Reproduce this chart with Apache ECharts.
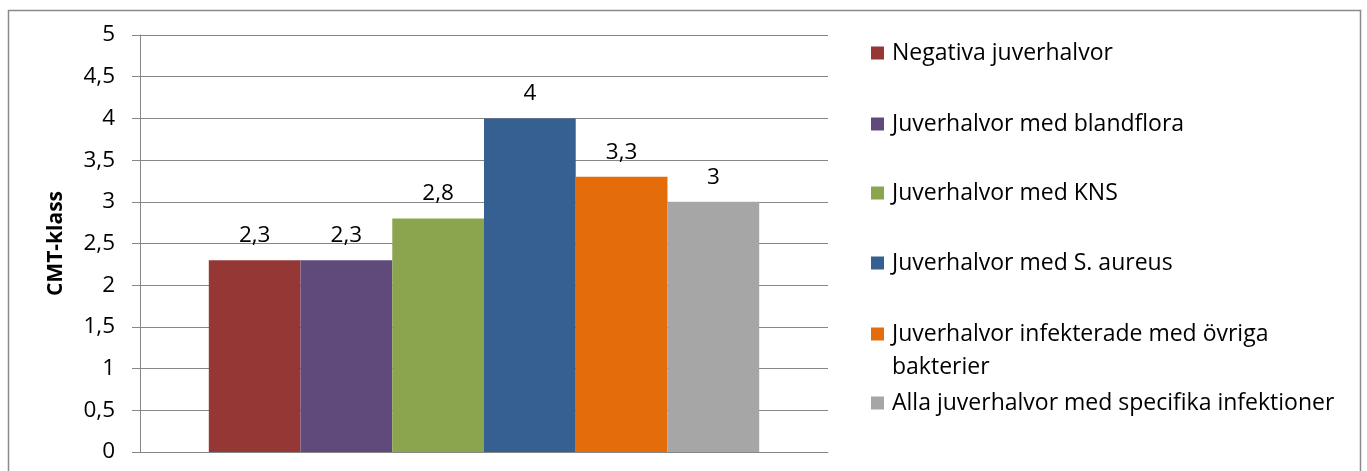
<!DOCTYPE html>
<html>
<head>
<meta charset="utf-8">
<script src="https://cdn.jsdelivr.net/npm/echarts@6/dist/echarts.min.js"></script>
<style>
html,body{margin:0;padding:0;background:#fff;}
#chart{width:1367px;height:471px;}
</style>
</head>
<body>
<div id="chart"></div>
<script>
// ---- data ----
var categories = [''];
var seriesNames = [
  'Negativa juverhalvor',
  'Juverhalvor med blandflora',
  'Juverhalvor med KNS',
  'Juverhalvor med S. aureus',
  'Juverhalvor infekterade med övriga\nbakterier',
  'Alla juverhalvor med specifika infektioner'
];
var values = [2.3, 2.3, 2.8, 4, 3.3, 3];
var yTicks = [0, 0.5, 1, 1.5, 2, 2.5, 3, 3.5, 4, 4.5, 5];
var yAxisTitle = 'CMT-klass';

// ---- styles ----
var colors = ['#953735', '#604A7B', '#8BA54F', '#376092', '#E46C0A', '#A6A6A6'];
var FONT = '"Open Sans", "Noto Sans", sans-serif';
var legendCenters = [53, 124, 193, 263, 334, 403];
var LH = 33;

function fmt(v) { return String(v).replace('.', ','); }

var series = seriesNames.map(function (name, i) {
  return {
    name: name,
    type: 'bar',
    data: [values[i]],
    barGap: '0%',
    barCategoryGap: '20%',
    itemStyle: { color: colors[i] },
    label: {
      show: true,
      position: 'top',
      distance: 13,
      color: '#000',
      fontFamily: FONT,
      fontSize: 22.5,
      formatter: function (p) { return fmt(p.value); }
    }
  };
});

var legends = seriesNames.map(function (name, i) {
  var multi = name.indexOf('\n') >= 0;
  return {
    orient: 'vertical',
    left: 871,
    top: multi ? legendCenters[i] - (LH * 3) / 2 : legendCenters[i] - LH / 2,
    padding: 0,
    itemWidth: 13,
    itemHeight: 13,
    icon: 'rect',
    selectedMode: false,
    data: [name],
    // keep the first text line level with the colour key (as in the original)
    formatter: multi ? function (n) { return '\n' + n; } : null,
    textStyle: {
      fontFamily: FONT,
      fontSize: 23,
      color: '#000',
      lineHeight: LH,
      padding: [0, 0, 0, 3]
    }
  };
});

var chart = echarts.init(document.getElementById('chart'), null, { renderer: 'canvas' });
chart.setOption({
  animation: false,
  backgroundColor: '#fff',
  color: colors,
  grid: { left: 140, right: 539, top: 35, bottom: 19, containLabel: false },
  legend: legends,
  xAxis: {
    type: 'category',
    data: categories,
    axisLine: { show: true, lineStyle: { color: '#868686', width: 1 } },
    axisTick: { show: false },
    axisLabel: { show: false }
  },
  yAxis: {
    type: 'value',
    min: yTicks[0],
    max: yTicks[yTicks.length - 1],
    interval: yTicks[1] - yTicks[0],
    name: yAxisTitle,
    nameLocation: 'middle',
    nameGap: 73,
    nameRotate: 90,
    nameTextStyle: {
      fontFamily: FONT,
      fontSize: 21,
      fontWeight: 'bold',
      color: '#000'
    },
    axisLine: { show: true, lineStyle: { color: '#868686', width: 1 } },
    axisTick: { show: true, length: 8, inside: false, lineStyle: { color: '#868686' } },
    axisLabel: {
      margin: 25,
      fontFamily: FONT,
      fontSize: 22.5,
      color: '#000',
      formatter: function (v) { return fmt(v); }
    },
    splitLine: { show: true, lineStyle: { color: '#868686', width: 1 } }
  },
  graphic: [{
    type: 'rect',
    silent: true,
    shape: { x: 8.5, y: 10.5, width: 1352, height: 480 },
    style: { fill: 'none', stroke: '#8a8a8a', lineWidth: 1.5 }
  }],
  series: series
});
</script>
</body>
</html>
